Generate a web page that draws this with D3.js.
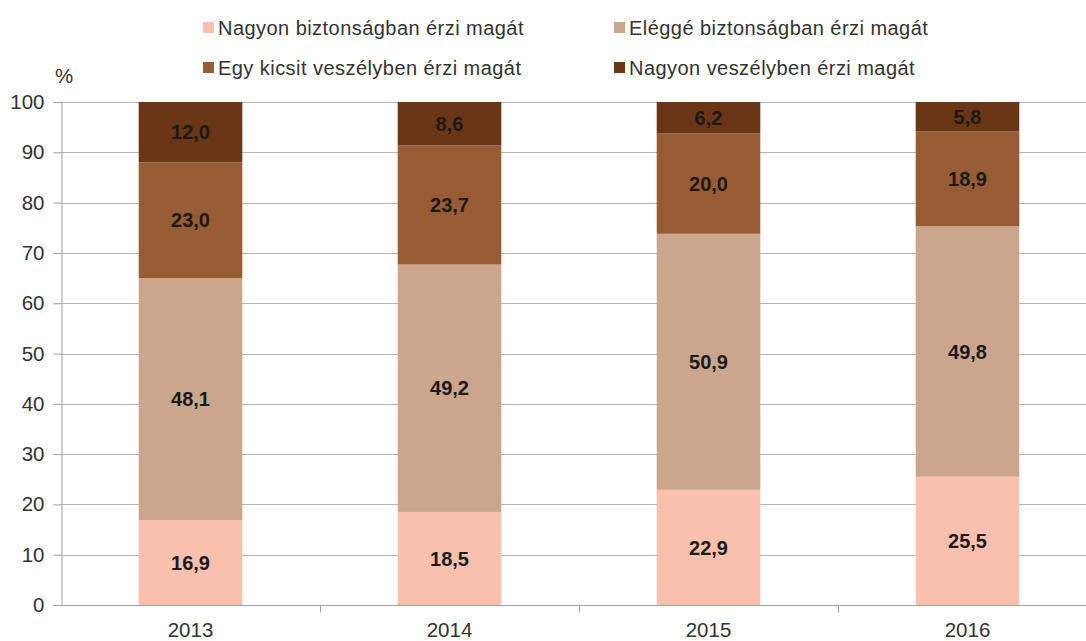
<!DOCTYPE html>
<html>
<head>
<meta charset="utf-8">
<script src="https://cdn.jsdelivr.net/npm/d3@7"></script>
<style>
  body { margin: 0; background: #fff; }
  svg { display: block; font-family: "Liberation Sans", Arial, sans-serif; }
</style>
</head>
<body>
<div class="container"></div>
<script>
// chart data
const years = ["2013", "2014", "2015", "2016"];
const seriesNames = [
    "Nagyon biztonságban érzi magát",
    "Eléggé biztonságban érzi magát",
    "Egy kicsit veszélyben érzi magát",
    "Nagyon veszélyben érzi magát"
];
const veryFeelSafe = [16.9, 18.5, 22.9, 25.5];
const fairlySafe = [48.1, 49.2, 50.9, 49.8];
const littleDanger = [23.0, 23.7, 20.0, 18.9];
const veryDanger = [12.0, 8.6, 6.2, 5.8];
const yTicks = [0, 10, 20, 30, 40, 50, 60, 70, 80, 90, 100];

const colors = ["#F8C0AD", "#C9A68C", "#975C34", "#6B3615"];

const width = 1086, height = 641;
const margin = { top: 102, left: 61, bottom: 36 };

const svg = d3.select("div.container").append("svg")
    .attr("width", width)
    .attr("height", height);

// build table rows for d3.stack
const rows = years.map((y, i) => ({
    year: y,
    s0: veryFeelSafe[i],
    s1: fairlySafe[i],
    s2: littleDanger[i],
    s3: veryDanger[i]
}));
const keys = ["s0", "s1", "s2", "s3"];
const stacked = d3.stack().keys(keys)(rows);

const x = d3.scaleBand()
    .domain(years)
    .range([margin.left, margin.left + 259 * 4])
    .paddingInner(0.6)
    .paddingOuter(0.3);

const y = d3.scaleLinear()
    .domain([0, 100])
    .range([height - margin.bottom, margin.top]);

// gridlines
svg.append("g")
    .selectAll("line")
    .data(yTicks.filter(d => d > 0))
    .enter()
    .append("line")
    .attr("x1", margin.left)
    .attr("x2", width)
    .attr("y1", d => Math.round(y(d)) + 0.5)
    .attr("y2", d => Math.round(y(d)) + 0.5)
    .attr("stroke", "#b4b4b4")
    .attr("stroke-width", 1);

// bars
const layers = svg.append("g")
    .selectAll("g")
    .data(stacked)
    .enter()
    .append("g")
    .attr("fill", (d, i) => colors[i]);

layers.selectAll("rect")
    .data(d => d)
    .enter()
    .append("rect")
    .attr("x", d => x(d.data.year))
    .attr("width", x.bandwidth())
    .attr("y", d => y(d[1]))
    .attr("height", d => y(d[0]) - y(d[1]));

// value labels
layers.selectAll("text")
    .data(d => d.map(p => ({ p: p, key: d.key })))
    .enter()
    .append("text")
    .attr("x", d => x(d.p.data.year) + x.bandwidth() / 2)
    .attr("y", d => (y(d.p[0]) + y(d.p[1])) / 2)
    .attr("dy", "0.36em")
    .attr("text-anchor", "middle")
    .attr("fill", "#1a1a1a")
    .style("font-size", "20px")
    .style("font-weight", "bold")
    .text(d => d3.format(".1f")(d.p.data[d.key]).replace(".", ","));

// y axis
const yAxis = d3.axisLeft(y)
    .tickValues(yTicks)
    .tickSize(8)
    .tickPadding(9);
const gy = svg.append("g")
    .attr("transform", `translate(${margin.left + 0.5},0)`)
    .call(yAxis);
gy.select(".domain").attr("stroke", "#a0a0a0");
gy.selectAll(".tick line").attr("stroke", "#a0a0a0");
gy.selectAll(".tick text")
    .attr("fill", "#333")
    .style("font-size", "20.5px")
    .style("font-family", "Liberation Sans, Arial, sans-serif");

// x axis
const xAxis = d3.axisBottom(x).tickSize(0).tickPadding(17);
const gx = svg.append("g")
    .attr("transform", `translate(0,${Math.round(y(0)) + 0.5})`)
    .call(xAxis);
gx.select(".domain").remove();
gx.append("line")
    .attr("x1", margin.left)
    .attr("x2", width)
    .attr("stroke", "#a0a0a0");
gx.selectAll(".tick text")
    .attr("fill", "#333")
    .style("font-size", "20.5px")
    .style("font-family", "Liberation Sans, Arial, sans-serif");

// category separators on x axis
gx.selectAll("line.sep")
    .data(years.slice(1))
    .enter()
    .append("line")
    .attr("class", "sep")
    .attr("x1", d => Math.round(x(d) - x.step() * x.paddingInner() / 2) + 0.5)
    .attr("x2", d => Math.round(x(d) - x.step() * x.paddingInner() / 2) + 0.5)
    .attr("y1", 0)
    .attr("y2", 7)
    .attr("stroke", "#a0a0a0");

// unit label
svg.append("text")
    .attr("x", 55)
    .attr("y", 83)
    .attr("fill", "#333")
    .style("font-size", "20.5px")
    .text("%");

// legend
const legendPos = [[203, 27.5], [614, 27.5], [203, 67.5], [614, 67.5]];
const legend = svg.append("g").attr("id", "legend");
const items = legend.selectAll("g")
    .data(seriesNames)
    .enter()
    .append("g")
    .attr("transform", (d, i) => `translate(${legendPos[i][0]},${legendPos[i][1]})`);
items.append("rect")
    .attr("x", 0)
    .attr("y", -5.5)
    .attr("width", 11)
    .attr("height", 11)
    .attr("fill", (d, i) => colors[i]);
items.append("text")
    .attr("x", 15)
    .attr("y", 0)
    .attr("dy", "0.35em")
    .attr("fill", "#333")
    .style("font-size", "20px")
    .style("letter-spacing", "0.45px")
    .text(d => d);
</script>
</body>
</html>
